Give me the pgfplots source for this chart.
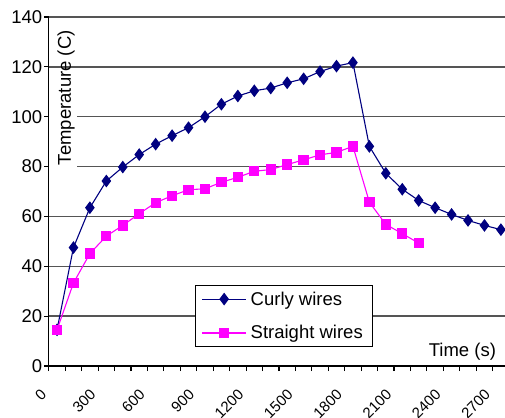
\documentclass[border=0pt]{standalone}
\usepackage{graphicx}
\usepackage{pgfplots}
\pgfplotsset{compat=1.18}
\usepackage{fontspec}
\setmainfont{Liberation Sans}
\definecolor{curly}{RGB}{0,0,128}
\definecolor{straight}{RGB}{255,0,255}
\definecolor{gridgray}{RGB}{85,85,85}
\newcommand\chartfont{\fontsize{18.5}{22}\selectfont}
\newcommand\rl[1]{\rotatebox{45}{#1}}

\begin{document}
\begin{tikzpicture}
\useasboundingbox (-48.8pt,-51pt) rectangle (456.2pt,366pt);
\begin{axis}[
    at={(0pt,0pt)}, anchor=south west,
    scale only axis, width=456.2pt, height=349pt,
    xmin=-50, xmax=2725, ymin=0, ymax=140,
    axis x line*=bottom, axis y line*=left,
    axis line style={-, black, line width=1.2pt},
    tick align=outside, major tick length=5pt,
    tick style={black, line width=1.1pt},
    xtick={-50,50,...,2650}, xticklabels={},
    extra x ticks={0,300,...,2700},
    extra x tick labels={\rl{0},\rl{300},\rl{600},\rl{900},\rl{1200},\rl{1500},\rl{1800},\rl{2100},\rl{2400},\rl{2700}},
    extra x tick style={major tick length=0pt, grid=none},
    x tick label style={font=\fontsize{15}{18}\selectfont, anchor=north east, inner sep=0pt, xshift=-9.5pt, yshift=-22pt},
    ytick={0,20,...,140},
    yticklabels={0,20,40,60,80,100,120,140},
    y tick label style={font=\chartfont, xshift=2pt},
    ymajorgrids, grid style={gridgray, line width=1.3pt},
    legend style={at={(rel axis cs:0.3205,0.0544)}, anchor=south west,
        draw=black, line width=1.2pt, fill=white, font=\chartfont,
        inner xsep=6pt, inner ysep=6pt, row sep=19pt,
        nodes={inner xsep=4pt, inner ysep=0pt}},
    legend cell align=left,
    legend image code/.code={%
        \draw[mark repeat=2, mark phase=2, #1] plot coordinates {(0pt,0pt) (22pt,0pt) (44pt,0pt)};},
]
\fill[white] (axis cs:-46,75) rectangle (axis cs:121,112);
\addplot[curly, line width=1.1pt, mark=diamond*, mark size=5.5pt,
    mark options={solid, fill=curly}] coordinates {
    (0,14.5) (100,47.5) (200,63.5) (300,74.2) (400,79.8) (500,84.8) (600,89.0)
    (700,92.4) (800,95.6) (900,100.0) (1000,105.0) (1100,108.3) (1200,110.4)
    (1300,111.5) (1400,113.6) (1500,115.2) (1600,118.1) (1700,120.3) (1800,121.7)
    (1900,88.1) (2000,77.3) (2100,70.9) (2200,66.4) (2300,63.5) (2400,60.8)
    (2500,58.4) (2600,56.4) (2700,54.7)};
\addlegendentry{Curly wires}
\addplot[straight, line width=1.1pt, mark=square*, mark size=4.6pt,
    mark options={solid, fill=straight}] coordinates {
    (0,14.5) (100,33.3) (200,45.1) (300,52.1) (400,56.4) (500,61.1) (600,65.5)
    (700,68.3) (800,70.7) (900,71.1) (1000,73.7) (1100,75.7) (1200,78.1)
    (1300,78.8) (1400,80.8) (1500,82.7) (1600,84.7) (1700,85.7) (1800,88.1)
    (1900,65.7) (2000,56.8) (2100,53.1) (2200,49.3)};
\addlegendentry{Straight wires}
\node[font=\chartfont] at (axis cs:2466,5.6) {Time (s)};
\node[font=\chartfont, rotate=90] at (axis cs:54.6,107.6) {Temperature (C)};
\end{axis}
\end{tikzpicture}
\end{document}
